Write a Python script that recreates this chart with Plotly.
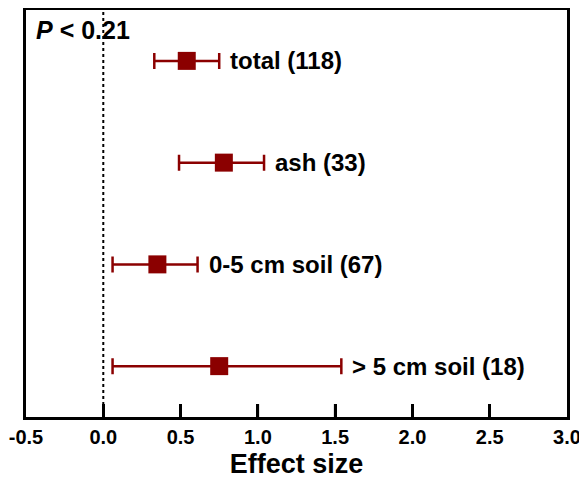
import plotly.graph_objects as go

categories = ["total (118)", "ash (33)", "0-5 cm soil (67)", "> 5 cm soil (18)"]
effect = [0.54, 0.78, 0.35, 0.75]
ci_low = [0.33, 0.49, 0.06, 0.06]
ci_high = [0.75, 1.04, 0.61, 1.54]
ypos = [4, 3, 2, 1]
x_ticks = [-0.5, 0.0, 0.5, 1.0, 1.5, 2.0, 2.5, 3.0]
x_ticklabels = ["-0.5", "0.0", "0.5", "1.0", "1.5", "2.0", "2.5", "3.0"]

color = "#8B0000"
font_family = "Arial, Liberation Sans, sans-serif"
y_range = [0.5, 4.5]
fig_h = 475
m_t, m_b = 2, 66
plot_h = fig_h - m_t - m_b
tick_len_units = 13 * (y_range[1] - y_range[0]) / plot_h

fig = go.Figure()

# inner tick marks along the bottom axis (interior tick values), drawn via the axis scales
tick_x, tick_y = [], []
for tv in x_ticks[1:-1]:
    tick_x += [tv, tv, None]
    tick_y += [y_range[0], y_range[0] + tick_len_units, None]
fig.add_trace(go.Scatter(x=tick_x, y=tick_y, mode="lines",
                         line=dict(color="black", width=2.5),
                         showlegend=False, hoverinfo="skip", cliponaxis=False))

fig.add_trace(go.Scatter(
    x=effect, y=ypos, mode="markers",
    marker=dict(symbol="square", size=18, color=color, line=dict(width=0)),
    error_x=dict(type="data", symmetric=False,
                 array=[h - e for h, e in zip(ci_high, effect)],
                 arrayminus=[e - l for e, l in zip(effect, ci_low)],
                 color=color, thickness=2.5, width=8),
    showlegend=False, hoverinfo="skip",
))

for cat, h, y in zip(categories, ci_high, ypos):
    fig.add_annotation(x=h, y=y, text=f"<b>{cat}</b>", showarrow=False,
                       xanchor="left", yanchor="middle", xshift=9,
                       font=dict(family=font_family, size=24, color="black"))

fig.add_annotation(x=0, y=1, xref="paper", yref="paper", xanchor="left", yanchor="top",
                   xshift=8, yshift=-4,
                   text="<b><i>P</i> < 0.21</b>", showarrow=False,
                   font=dict(family=font_family, size=25, color="black"))

fig.add_shape(type="line", x0=0, x1=0, y0=0, y1=1, xref="x", yref="paper",
              line=dict(color="black", width=2, dash="dot"))

# page body has an 8px default margin, so the figure is sized to fit the window
fig.update_layout(
    width=579, height=fig_h,
    margin=dict(l=18, r=20, t=m_t, b=m_b),
    plot_bgcolor="white", paper_bgcolor="white",
    font=dict(family=font_family, color="black"),
    xaxis=dict(range=[-0.5, 3.0], tickmode="array", tickvals=x_ticks,
               ticktext=[f"<b>{t}</b>" for t in x_ticklabels],
               ticks="inside", ticklen=13, tickwidth=2.5, tickcolor="black",
               ticklabeloverflow="allow",
               showline=True, linecolor="black", linewidth=3, mirror=True,
               showgrid=False, zeroline=False, automargin=False,
               tickfont=dict(family=font_family, size=20, color="black"),
               title=dict(text="<b>Effect size</b>", font=dict(family=font_family, size=27, color="black"), standoff=8)),
    yaxis=dict(range=y_range, showticklabels=False, ticks="",
               showline=True, linecolor="black", linewidth=3, mirror=True,
               showgrid=False, zeroline=False, automargin=False),
)

fig.write_html("out.html")
